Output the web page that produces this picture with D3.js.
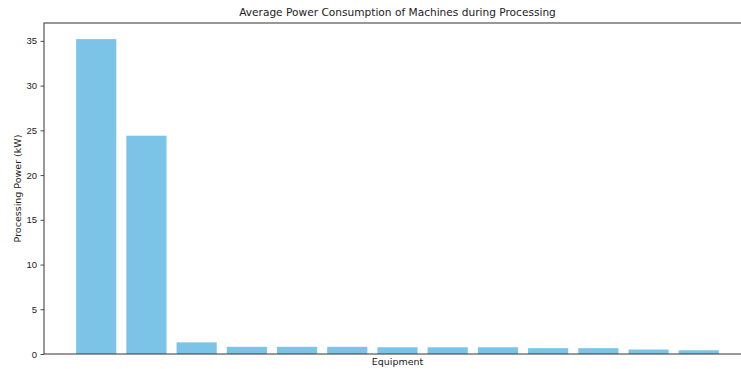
<!DOCTYPE html>
<html>
<head>
<meta charset="utf-8">
<script src="https://cdn.jsdelivr.net/npm/d3@7"></script>
<style>
  body { margin: 0; background: #fff; }
  svg { display: block; font-family: "DejaVu Sans", sans-serif; }
</style>
</head>
<body>
<div id="chart"></div>
<script>
// data
var equipment = ["M1", "M2", "M3", "M4", "M5", "M6", "M7", "M8", "M9", "M10", "M11", "M12", "M13"];
var power = [35.2, 24.4, 1.3, 0.8, 0.8, 0.8, 0.75, 0.75, 0.75, 0.65, 0.65, 0.5, 0.42];
var yTicks = [0, 5, 10, 15, 20, 25, 30, 35];

var svg = d3.select("#chart").append("svg");
svg.attr("width", 741).attr("height", 369);
var margin = { top: 23, left: 44, bottom: 15, right: -10 };
var width = +svg.attr("width") - margin.left - margin.right;
var height = +svg.attr("height") - margin.top - margin.bottom;

var x = d3
  .scaleBand()
  .domain(equipment)
  .range([margin.left, margin.left + width])
  .paddingInner(0.2)
  .paddingOuter(0.64);

var y = d3
  .scaleLinear()
  .domain([0, 37])
  .range([margin.top + height, margin.top]);

// bars
svg
  .append("g")
  .attr("fill", "#7bc4e7")
  .selectAll("rect")
  .data(power)
  .enter()
  .append("rect")
  .attr("x", (d, i) => x(equipment[i]))
  .attr("y", (d) => y(d))
  .attr("width", x.bandwidth())
  .attr("height", (d) => y(0) - y(d));

// y axis
var yAxis = svg
  .append("g")
  .attr("transform", `translate(${margin.left},0)`)
  .call(d3.axisLeft(y).tickValues(yTicks).tickSize(3.5).tickPadding(3.5).tickSizeOuter(0));
yAxis.select(".domain").remove();
yAxis.selectAll("text").attr("font-size", 9.5).attr("fill", "#222");
yAxis.selectAll("line").attr("stroke", "#222").attr("stroke-width", 0.8);

// frame
var x0 = margin.left, x1 = margin.left + width;
var y0 = margin.top, y1 = margin.top + height;
svg
  .append("rect")
  .attr("x", x0)
  .attr("y", y0)
  .attr("width", x1 - x0)
  .attr("height", y1 - y0)
  .attr("fill", "none")
  .attr("stroke", "#333")
  .attr("stroke-width", 1);

// title & labels
svg
  .append("text")
  .attr("x", (x0 + x1) / 2)
  .attr("y", 16)
  .attr("text-anchor", "middle")
  .attr("font-size", 10.6)
  .attr("fill", "#222")
  .text("Average Power Consumption of Machines during Processing");

svg
  .append("text")
  .attr("x", (x0 + x1) / 2)
  .attr("y", 365)
  .attr("text-anchor", "middle")
  .attr("font-size", 9.5)
  .attr("fill", "#222")
  .text("Equipment");

svg
  .append("text")
  .attr("transform", `translate(21,${(y0 + y1) / 2}) rotate(-90)`)
  .attr("text-anchor", "middle")
  .attr("font-size", 9.5)
  .attr("fill", "#222")
  .text("Processing Power (kW)");
</script>
</body>
</html>
